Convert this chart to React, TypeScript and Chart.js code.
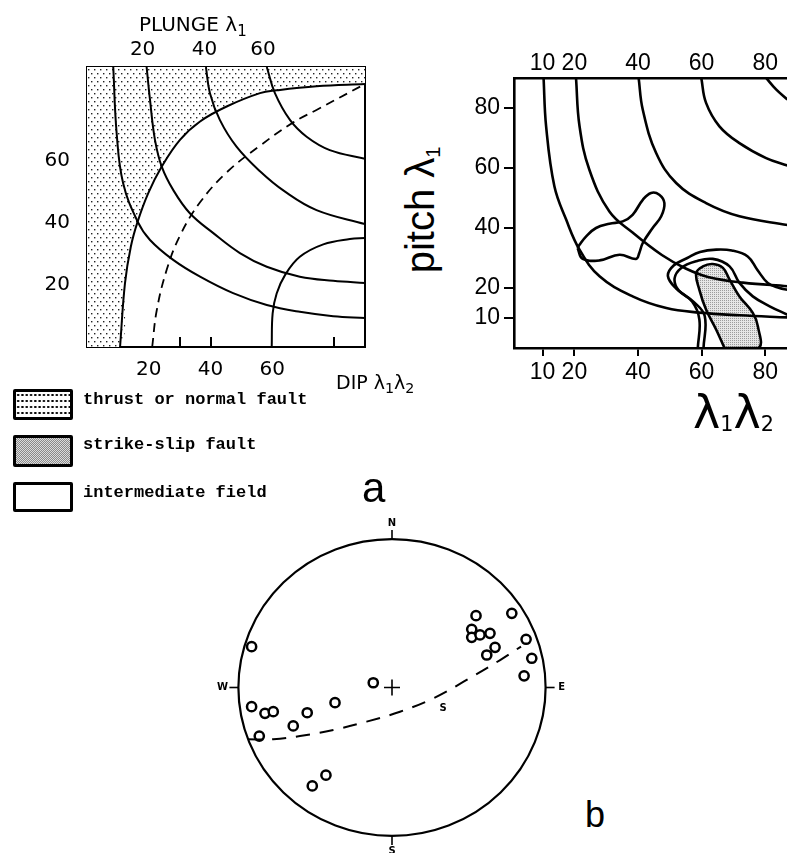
import React, { useEffect, useRef } from 'react';
import { Chart, registerables } from 'chart.js';

Chart.register(...registerables);

type XY = [number, number];

/* ---------- Panel a, left: λ1 plunge contours over the dip of the λ1λ2 plane ---------- */
const dipAxisMarks = [30, 40, 80];
const dipAxisLabels = [20, 40, 60];
const sideAxisMarks = [10, 20, 30, 40, 50, 60, 70, 80];
const sideAxisLabels = [20, 40, 60];
const plungeLabelPos = [18, 38, 57];
const plungeLabelText = ['20', '40', '60'];

const plunge10: XY[] = [[8.5, 90], [9.6, 68.7], [11.7, 52.6], [16.4, 40.3], [20.4, 34.4], [27.9, 28], [36.6, 22.6], [47.3, 17.3], [58.2, 13.5], [68.9, 11.3], [79.7, 9.9], [90, 9.3]];
const plunge20: XY[] = [[19.3, 90], [20.4, 79.4], [22, 66.6], [24.2, 58], [27.9, 50.5], [33.3, 43], [40.9, 36.6], [49.5, 30.2], [58.2, 25.8], [68.9, 22.6], [79.7, 21.3], [90, 20.6]];
const plunge40: XY[] = [[38.5, 90], [39.8, 81.6], [43, 73], [48.4, 64.4], [56, 56.5], [64, 50], [74.3, 44], [90, 39.5]];
const plunge60: XY[] = [[58.2, 90], [60.8, 81.7], [65.7, 73], [71.1, 67.6], [78.6, 63.3], [90, 60.5]];
const risingContour: XY[] = [[59.8, 0], [60.1, 10.8], [61.4, 17.2], [64.1, 23.1], [68.9, 29], [76.5, 33], [85.1, 34.7], [90, 35]];
const thrustBoundary: XY[] = [[10.7, 0], [12.3, 20.5], [14.2, 32.3], [16.4, 40.3], [19.8, 49.4], [24.2, 58], [30.1, 66.6], [36.6, 72.5], [45.2, 77.3], [56, 81.6], [61.4, 82.5], [74.3, 83.8], [90, 84.5]];
const thrustCorner: XY = [0, 0];
const dividingLine: XY[] = [[21.1, 0], [22.6, 11.9], [25.8, 24.8], [30.1, 35.8], [36.6, 46.5], [45.2, 56.1], [56, 64.7], [66.8, 72.2], [74.3, 76.2], [89.4, 84.2]];

/* ---------- Panel a, right: pitch λ1 against λ1λ2 ---------- */
const lambdaTicks = [10, 20, 40, 60, 80];
const pitchTicks = [10, 20, 40, 60, 80];

const contour10: XY[] = [[10.3, 90], [11.1, 73.9], [13.7, 53.9], [17.4, 42.8], [21.6, 32.8], [27.9, 23.9], [38.3, 17.2], [48.9, 13.3], [59.3, 11.8], [72, 10.9], [87, 10.2]];
const contour20: XY[] = [[20.5, 90], [21.6, 74], [24.7, 59.4], [31, 45.5], [38.5, 38.3], [47.5, 31], [55, 26.5], [62, 23.7], [73, 21.8], [87, 20.6]];
const contour40: XY[] = [[40.2, 90], [41.5, 79.4], [45.7, 65], [52, 55], [61.4, 48.3], [71.9, 43.9], [87, 41]];
const contour60: XY[] = [[59.9, 90], [61.4, 81.7], [65.6, 73.9], [71.9, 68.3], [80.3, 63.3], [87, 60.8]];
const contour80: XY[] = [[80.3, 90], [83.5, 86.1], [87, 82.8]];

const intermediateLobe: XY[] = [[21, 33.3], [22.6, 29.7], [27.9, 29.2], [34.2, 31.1], [39.4, 29.7], [40.4, 31.7], [41.5, 35], [44.6, 40], [47.3, 43.9], [48.3, 48.3], [46.7, 51.1], [44.1, 51.7], [41.5, 49.4], [38.3, 44.4], [35.2, 42.2], [31, 41.4], [26.8, 40], [23.7, 37.2], [21.6, 34.4]];
const outerEnvelope: XY[] = [[58.8, 0], [59.3, 9.5], [57, 15.5], [52, 19.8], [49.4, 24], [51.2, 27.5], [55.5, 30], [59.5, 32], [64.6, 32.8], [69.5, 32.5], [74.5, 30.5], [77.5, 26.1], [80.8, 21.7], [84.5, 20], [87, 19.4]];
const middleEnvelope: XY[] = [[60.6, 0], [61, 10.6], [57.5, 15.4], [52.8, 19.2], [51.5, 23.2], [53.6, 26.7], [58.3, 28.9], [63.5, 29.7], [68.8, 27.2], [71.9, 21.7], [76.1, 17.2], [81.4, 13.9], [87, 11.1]];
const strikeSlipField: XY[] = [[67.2, 0], [64.6, 6.1], [61.4, 12.8], [59.3, 19.4], [58.3, 25], [60.4, 27.2], [63.5, 28], [66.7, 26.7], [68.8, 22.8], [71.9, 17.2], [76.1, 11.7], [77.7, 7.2], [77.9, 0]];

/* ---------- Panel b: stereonet (net radius = 1) ---------- */
const poles: XY[] = [
  [-0.914, 0.275], [-0.914, -0.129], [-0.827, -0.174], [-0.773, -0.163], [-0.864, -0.327],
  [-0.643, -0.259], [-0.552, -0.17], [-0.371, -0.102], [-0.122, 0.032], [-0.519, -0.663],
  [-0.43, -0.591], [0.547, 0.484], [0.519, 0.392], [0.519, 0.338], [0.573, 0.354],
  [0.638, 0.365], [0.671, 0.271], [0.617, 0.219], [0.78, 0.5], [0.873, 0.325],
  [0.91, 0.197], [0.86, 0.079],
];
const netCentre: XY = [0, 0];
const planeS: XY[] = [[-0.936, -0.349], [-0.773, -0.349], [-0.599, -0.327], [-0.382, -0.286], [-0.165, -0.23], [0.052, -0.163], [0.269, -0.073], [0.486, 0.051], [0.704, 0.185], [0.84, 0.276]];
const planeLabel = { at: [0.332, -0.138] as XY, text: 'S' };
const compass = [
  { text: 'N', dir: [0, 1] as XY },
  { text: 'E', dir: [1, 0] as XY },
  { text: 'S', dir: [0, -1] as XY },
  { text: 'W', dir: [-1, 0] as XY },
];

/* ---------- helpers ---------- */
const toPts = (a: XY[]) => a.map(([x, y]) => ({ x, y }));
const closed = (a: XY[]) => [...a, a[0]];
const fixedTicks = (values: number[]) => (axis: any) => {
  axis.ticks = values.map((value) => ({ value }));
};
const union = (a: number[], b: number[]) => Array.from(new Set([...a, ...b])).sort((p, q) => p - q);
const markColor = (marks: number[]) => (c: any) => (c.tick && marks.includes(c.tick.value) ? '#000' : 'rgba(0,0,0,0)');

const curve = (a: XY[], o: any = {}) => ({
  data: toPts(a),
  borderColor: '#000',
  borderWidth: 2,
  pointRadius: 0,
  tension: 0.4,
  fill: false,
  ...o,
});

function makePattern(w: number, h: number, bg: string, ink: string, dots: XY[], size: number) {
  const c = document.createElement('canvas');
  c.width = w;
  c.height = h;
  const g = c.getContext('2d')!;
  g.fillStyle = bg;
  g.fillRect(0, 0, w, h);
  g.fillStyle = ink;
  dots.forEach(([x, y]) => g.fillRect(x, y, size, size));
  return g.createPattern(c, 'repeat')!;
}

const baseOptions = (scales: any, padding: any = 0) => ({
  animation: false,
  responsive: false,
  maintainAspectRatio: false,
  devicePixelRatio: 1,
  events: [],
  layout: { padding, autoPadding: false },
  plugins: { legend: { display: false }, tooltip: { enabled: false }, title: { display: false } },
  scales,
});

const fontA = { family: '"DejaVu Sans", sans-serif', size: 20 };
const fontB = { family: '"Liberation Sans", Arial, sans-serif', size: 23 };
const edge = (width: number) => ({ display: true, color: '#000', width });

function buildDipPanel() {
  const thrustFill = makePattern(6, 8, '#ffffff', '#222', [[1, 1], [4, 5]], 1.4);
  return {
    type: 'line',
    data: {
      datasets: [
        curve([thrustCorner, ...thrustBoundary], { fill: 'end', backgroundColor: thrustFill, borderWidth: 0, borderColor: 'rgba(0,0,0,0)', order: 10 }),
        curve(thrustBoundary),
        curve(plunge10),
        curve(plunge20),
        curve(plunge40),
        curve(plunge60),
        curve(risingContour),
        curve(dividingLine, { borderDash: [9, 6], borderWidth: 1.8 }),
      ],
    },
    options: baseOptions({
      x: {
        type: 'linear', position: 'bottom', min: 0, max: 90, z: 1,
        afterBuildTicks: fixedTicks(union(dipAxisMarks, dipAxisLabels)),
        afterFit: (s: any) => { s.height = 43; },
        ticks: { autoSkip: false, maxRotation: 0, padding: 21, color: '#000', font: fontA, callback: (v: number) => (dipAxisLabels.includes(v) ? String(v) : '') },
        grid: { drawOnChartArea: false, tickLength: -10, lineWidth: 2, color: markColor(dipAxisMarks), tickColor: markColor(dipAxisMarks) },
        border: edge(2),
      },
      xTop: {
        type: 'linear', position: 'top', min: 0, max: 90, z: 1,
        afterBuildTicks: fixedTicks(plungeLabelPos),
        afterFit: (s: any) => { s.height = 67; },
        ticks: { autoSkip: false, maxRotation: 0, padding: 5, color: '#000', font: fontA, callback: (_v: number, i: number) => plungeLabelText[i] },
        grid: { drawOnChartArea: false, drawTicks: false },
        border: edge(2),
      },
      y: {
        type: 'linear', position: 'left', min: 0, max: 90, z: 1,
        afterBuildTicks: fixedTicks(sideAxisMarks),
        afterFit: (s: any) => { s.width = 87; },
        ticks: { autoSkip: false, padding: 27, color: '#000', font: fontA, callback: (v: number) => (sideAxisLabels.includes(v) ? String(v) : '') },
        grid: { drawOnChartArea: false, tickLength: -10, lineWidth: 2, color: '#000' },
        border: edge(2),
      },
      yRight: {
        type: 'linear', position: 'right', min: 0, max: 90, z: 1,
        ticks: { display: false },
        grid: { drawOnChartArea: false, drawTicks: false },
        afterFit: (s: any) => { s.width = 10; },
        border: edge(2),
      },
    }),
  };
}

function buildPitchPanel() {
  // fine halftone stipple for the strike-slip field
  const strikeFill = makePattern(2, 2, '#e6e6e6', '#9c9c9c', [[0, 0]], 1);
  const w = 2.6;
  return {
    type: 'line',
    data: {
      datasets: [
        curve(closed(strikeSlipField), { fill: 'shape', backgroundColor: strikeFill, borderWidth: w, order: 10 }),
        curve(contour10, { borderWidth: w }),
        curve(contour20, { borderWidth: w }),
        curve(contour40, { borderWidth: w }),
        curve(contour60, { borderWidth: w }),
        curve(contour80, { borderWidth: w }),
        curve(closed(intermediateLobe), { borderWidth: w }),
        curve(outerEnvelope, { borderWidth: w }),
        curve(middleEnvelope, { borderWidth: w }),
      ],
    },
    options: baseOptions({
      x: {
        type: 'linear', position: 'bottom', min: 1, max: 90,
        afterBuildTicks: fixedTicks(lambdaTicks),
        afterFit: (s: any) => { s.height = 42; },
        ticks: { autoSkip: false, maxRotation: 0, padding: 3, color: '#000', font: fontB },
        grid: { drawOnChartArea: false, tickLength: 8, lineWidth: 2, color: '#000' },
        border: edge(2.6),
      },
      xTop: {
        type: 'linear', position: 'top', min: 1, max: 90,
        afterBuildTicks: fixedTicks(lambdaTicks),
        afterFit: (s: any) => { s.height = 38; },
        ticks: { autoSkip: false, maxRotation: 0, padding: 1, color: '#000', font: fontB },
        grid: { drawOnChartArea: false, drawTicks: false },
        border: edge(2.6),
      },
      y: {
        type: 'linear', position: 'left', min: 0, max: 90,
        afterBuildTicks: fixedTicks(pitchTicks),
        afterFit: (s: any) => { s.width = 64; },
        ticks: { autoSkip: false, padding: 4, color: '#000', font: fontB },
        grid: { drawOnChartArea: false, tickLength: 10, lineWidth: 2, color: '#000' },
        border: edge(2.6),
      },
    }, { left: 0, top: 0, bottom: 0, right: 3 }),
  };
}

const netFrame = {
  id: 'netFrame',
  afterDatasetsDraw(chart: any) {
    const { ctx, scales } = chart;
    const { x, y } = scales;
    const cx = x.getPixelForValue(0);
    const cy = y.getPixelForValue(0);
    const rx = x.getPixelForValue(1) - cx;
    const ry = cy - y.getPixelForValue(1);
    ctx.save();
    ctx.strokeStyle = '#000';
    ctx.lineWidth = 2.2;
    ctx.beginPath();
    ctx.ellipse(cx, cy, rx, ry, 0, 0, Math.PI * 2);
    ctx.stroke();
    ctx.lineWidth = 1.6;
    ctx.fillStyle = '#000';
    ctx.font = 'bold 10px "DejaVu Sans", sans-serif';
    ctx.textAlign = 'center';
    ctx.textBaseline = 'middle';
    compass.forEach(({ text, dir: [dx, dy] }) => {
      const ex = cx + dx * rx;
      const ey = cy - dy * ry;
      ctx.beginPath();
      ctx.moveTo(ex, ey);
      ctx.lineTo(ex + dx * 9, ey - dy * 9);
      ctx.stroke();
      ctx.fillText(text, ex + dx * 16, ey - dy * 16);
    });
    ctx.fillText(planeLabel.text, x.getPixelForValue(planeLabel.at[0]), y.getPixelForValue(planeLabel.at[1]));
    ctx.restore();
  },
};

function buildNet() {
  return {
    type: 'scatter',
    data: {
      datasets: [
        { data: toPts(planeS), showLine: true, borderColor: '#000', borderWidth: 2, borderDash: [14, 10], pointRadius: 0, tension: 0.4 },
        { data: toPts(poles), pointStyle: 'circle', pointRadius: 4.6, pointBorderWidth: 2.5, pointBorderColor: '#000', pointBackgroundColor: '#fff' },
        { data: toPts([netCentre]), pointStyle: 'cross', pointRadius: 8, pointBorderWidth: 1.6, pointBorderColor: '#000' },
      ],
    },
    options: baseOptions({
      x: { type: 'linear', display: false, min: -1.25, max: 1.25 },
      y: { type: 'linear', display: false, min: -1.25, max: 1.25 },
    }),
    plugins: [netFrame],
  };
}

function Plot({ left, top, width, height, build }: { left: number; top: number; width: number; height: number; build: () => any }) {
  const ref = useRef<HTMLCanvasElement>(null);
  useEffect(() => {
    const chart = new Chart(ref.current as HTMLCanvasElement, build());
    return () => chart.destroy();
  }, []);
  return <canvas ref={ref} width={width} height={height} style={{ position: 'absolute', left, top, width, height }} />;
}

const abs = (left: number, top: number, extra: any = {}) => ({ position: 'absolute' as const, left, top, whiteSpace: 'nowrap' as const, color: '#000', ...extra });
const sub = (em: number, drop: string) => ({ fontSize: `${em}em`, position: 'relative' as const, top: drop });
const legendFont = { fontFamily: '"Liberation Mono", "Courier New", monospace', fontWeight: 700, fontSize: 17, lineHeight: '18px' };
const legendBox = (top: number, height: number, bg: any) => ({
  position: 'absolute' as const, left: 13, top, width: 60, height, boxSizing: 'border-box' as const,
  border: '3px solid #000', borderRadius: 2, ...bg,
});

export default function App() {
  return (
    <div style={{ position: 'absolute', left: 0, top: 0, width: 787, height: 853, overflow: 'hidden', background: '#fff' }}>
      <Plot left={0} top={0} width={375} height={390} build={buildDipPanel} />
      <Plot left={450} top={40} width={350} height={350} build={buildPitchPanel} />
      <Plot left={200} top={502} width={384} height={371} build={buildNet} />

      <div style={abs(139, 14, { fontFamily: '"DejaVu Sans", sans-serif', fontSize: 20, lineHeight: '20px' })}>
        PLUNGE λ<span style={sub(0.75, '0.3em')}>1</span>
      </div>
      <div style={abs(336, 373, { fontFamily: '"DejaVu Sans", sans-serif', fontSize: 19, lineHeight: '19px' })}>
        DIP λ<span style={sub(0.75, '0.3em')}>1</span>λ<span style={sub(0.75, '0.3em')}>2</span>
      </div>

      <div style={legendBox(389, 31, { backgroundColor: '#fff', backgroundImage: 'radial-gradient(circle, #000 0.9px, rgba(0,0,0,0) 1.3px)', backgroundSize: '4.3px 6px' })} />
      <div style={legendBox(435, 32, { background: 'repeating-conic-gradient(#8a8a8a 0 25%, #dcdcdc 0 50%) 0 0 / 2px 2px' })} />
      <div style={legendBox(482, 30, { backgroundColor: '#fff' })} />
      <div style={abs(83, 391, legendFont)}>thrust or normal fault</div>
      <div style={abs(83, 436, legendFont)}>strike-slip fault</div>
      <div style={abs(83, 484, legendFont)}>intermediate field</div>

      <div style={abs(362, 467, { fontFamily: '"Liberation Sans", Arial, sans-serif', fontSize: 42, lineHeight: '42px' })}>a</div>
      <div style={abs(585, 797, { fontFamily: '"Liberation Sans", Arial, sans-serif', fontSize: 36, lineHeight: '36px' })}>b</div>

      <div style={abs(423, 210, { fontFamily: '"Liberation Sans", Arial, sans-serif', fontSize: 40, lineHeight: '40px', transform: 'translate(-50%, -50%) rotate(-90deg)' })}>
        pitch λ<span style={sub(0.5, '0.3em')}>1</span>
      </div>
      <div style={abs(693, 389, { fontFamily: '"DejaVu Sans", sans-serif', fontSize: 46, lineHeight: '46px' })}>
        λ<span style={sub(0.45, '0.15em')}>1</span>λ<span style={sub(0.45, '0.15em')}>2</span>
      </div>
    </div>
  );
}
